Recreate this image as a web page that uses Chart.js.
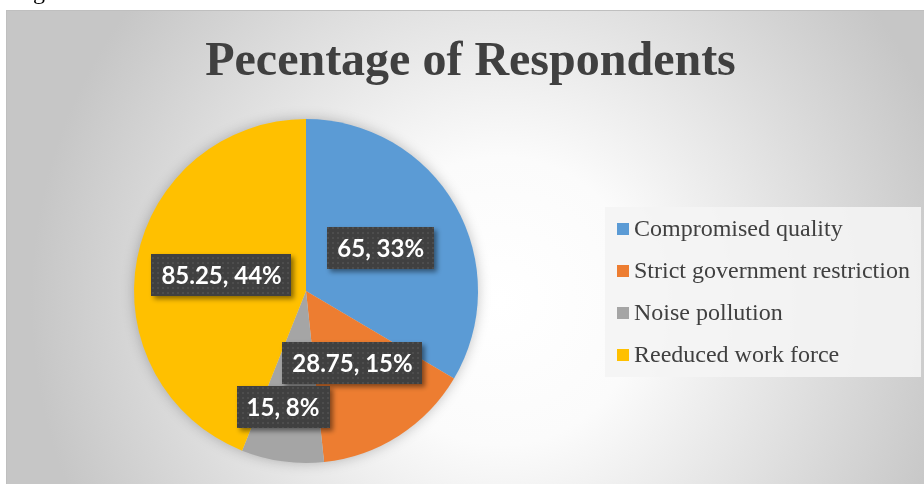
<!DOCTYPE html>
<html>
<head>
<meta charset="utf-8">
<title>Pecentage of Respondents</title>
<script src="https://cdn.jsdelivr.net/npm/chart.js@4.4.1/dist/chart.umd.min.js"></script>
<style>
    html, body { margin: 0; padding: 0; background: #fff; overflow: hidden; }
    #wrap { position: relative; width: 924px; height: 484px; }
    /* chart panel: light radial fill with thin grey border */
    #panel {
        position: absolute; left: 6px; top: 10px; width: 940px; height: 520px;
        border: 1px solid #bfbfbf; box-sizing: border-box;
        background: radial-gradient(ellipse 470px 480px at 494px 290px, #ffffff 0%, #fbfbfb 30%, #c6c6c6 100%);
    }
    #pie { position: absolute; left: 0; top: 0; }
</style>
</head>
<body>
<div id="wrap">
    <div id="panel"></div>
    <canvas id="pie" width="924" height="484"></canvas>
</div>
<script>
// Survey data
const categories = ['Compromised quality', 'Strict government restriction', 'Noise pollution', 'Reeduced work force'];
const respondents = [65, 28.75, 15, 85.25];
const sliceColors = ['#5B9BD5', '#ED7D31', '#A5A5A5', '#FFC000'];
const chartTitle = 'Pecentage of Respondents';

// Whole-number percentages that always add up to 100 (largest remainder)
function roundedPercents(values) {
    const total = values.reduce((a, b) => a + b, 0);
    const raw = values.map(v => v / total * 100);
    const out = raw.map(Math.floor);
    let left = 100 - out.reduce((a, b) => a + b, 0);
    raw.map((v, i) => [v - Math.floor(v), i])
        .sort((a, b) => b[0] - a[0])
        .forEach(([, i]) => { if (left > 0) { out[i]++; left--; } });
    return out;
}

// Dark dotted fill used behind the data labels
function dotFill(ctx) {
    const tile = document.createElement('canvas');
    tile.width = tile.height = 5;
    const t = tile.getContext('2d');
    t.fillStyle = '#404040';
    t.fillRect(0, 0, 5, 5);
    t.fillStyle = '#4d4d4d';
    t.fillRect(2, 2, 2, 2);
    return ctx.createPattern(tile, 'repeat');
}

// Soft shadow under the pie
const pieShadow = {
    id: 'pieShadow',
    beforeDatasetsDraw(chart) {
        const arc = chart.getDatasetMeta(0).data[0];
        if (!arc) return;
        const { x, y, outerRadius } = arc.getProps(['x', 'y', 'outerRadius'], true);
        const ctx = chart.ctx;
        ctx.save();
        ctx.shadowColor = 'rgba(0, 0, 0, 0.28)';
        ctx.shadowBlur = 14;
        ctx.fillStyle = '#d9d9d9';
        ctx.beginPath();
        ctx.arc(x, y, outerRadius - 1, 0, Math.PI * 2);
        ctx.fill();
        ctx.restore();
    }
};

// "value, pct%" labels in dark boxes
const sliceLabels = {
    id: 'sliceLabels',
    afterDatasetsDraw(chart, args, opts) {
        const ctx = chart.ctx;
        const data = chart.data.datasets[0].data;
        const pcts = roundedPercents(data);
        const fill = dotFill(ctx);
        ctx.save();
        ctx.font = opts.font;
        chart.getDatasetMeta(0).data.forEach((arc, i) => {
            const { x, y, startAngle, endAngle, outerRadius } =
                arc.getProps(['x', 'y', 'startAngle', 'endAngle', 'outerRadius'], true);
            const place = opts.placement[i];
            const mid = (startAngle + endAngle) / 2 + place.da * Math.PI / 180;
            const cx = x + Math.cos(mid) * outerRadius * place.r;
            const cy = y + Math.sin(mid) * outerRadius * place.r;
            const text = data[i] + ', ' + pcts[i] + '%';
            const w = ctx.measureText(text).width + opts.padX * 2;
            const h = opts.height;

            ctx.save();
            ctx.shadowColor = 'rgba(0, 0, 0, 0.45)';
            ctx.shadowBlur = 5;
            ctx.shadowOffsetX = 3;
            ctx.shadowOffsetY = 3;
            ctx.fillStyle = fill;
            ctx.fillRect(Math.round(cx - w / 2), Math.round(cy - h / 2), Math.round(w), h);
            ctx.restore();

            ctx.fillStyle = '#ffffff';
            ctx.textAlign = 'center';
            ctx.textBaseline = 'alphabetic';
            ctx.fillText(text, cx, cy + opts.baseShift);
        });
        ctx.restore();
    }
};

// Title, caption stub and right-hand legend
const panelText = {
    id: 'panelText',
    afterDraw(chart, args, opts) {
        const ctx = chart.ctx;
        ctx.save();

        ctx.fillStyle = '#000';
        ctx.font = '24px "Liberation Serif"';
        ctx.textAlign = 'left';
        ctx.textBaseline = 'alphabetic';
        ctx.fillText('Figure 10', 13, -1);

        ctx.fillStyle = '#404040';
        ctx.font = 'bold 48px "Liberation Serif"';
        ctx.textAlign = 'center';
        ctx.fillText(chartTitle, 470.5, 75);

        const lg = opts.legend;
        ctx.fillStyle = 'rgba(244, 244, 244, 0.9)';
        ctx.fillRect(lg.x, lg.y, lg.w, lg.h);
        ctx.font = '24px "Liberation Serif"';
        ctx.textAlign = 'left';
        ctx.textBaseline = 'middle';
        chart.data.labels.forEach((label, i) => {
            const yy = lg.firstY + i * lg.step;
            ctx.fillStyle = chart.data.datasets[0].backgroundColor[i];
            ctx.fillRect(lg.x + 12, yy - 6, 12, 12);
            ctx.fillStyle = '#404040';
            ctx.fillText(label, lg.x + 29, yy + 1);
        });
        ctx.restore();
    }
};

new Chart(document.getElementById('pie'), {
    type: 'pie',
    data: {
        labels: categories,
        datasets: [{
            data: respondents,
            backgroundColor: sliceColors,
            borderWidth: 0
        }]
    },
    options: {
        responsive: false,
        animation: false,
        layout: { padding: { left: 134, top: 119, right: 446, bottom: 21 } },
        plugins: {
            legend: { display: false },
            title: { display: false },
            tooltip: { enabled: false },
            sliceLabels: {
                font: 'bold 24px Lato',
                padX: 10,
                height: 42,
                baseShift: 9,
                placement: [
                    { r: 0.5, da: 0 },
                    { r: 0.5, da: 0 },
                    { r: 0.69, da: 3.3 },
                    { r: 0.5, da: 0 }
                ]
            },
            panelText: {
                legend: { x: 605, y: 207, w: 316, h: 170, firstY: 229, step: 42 }
            }
        }
    },
    plugins: [pieShadow, sliceLabels, panelText]
});
</script>
</body>
</html>
